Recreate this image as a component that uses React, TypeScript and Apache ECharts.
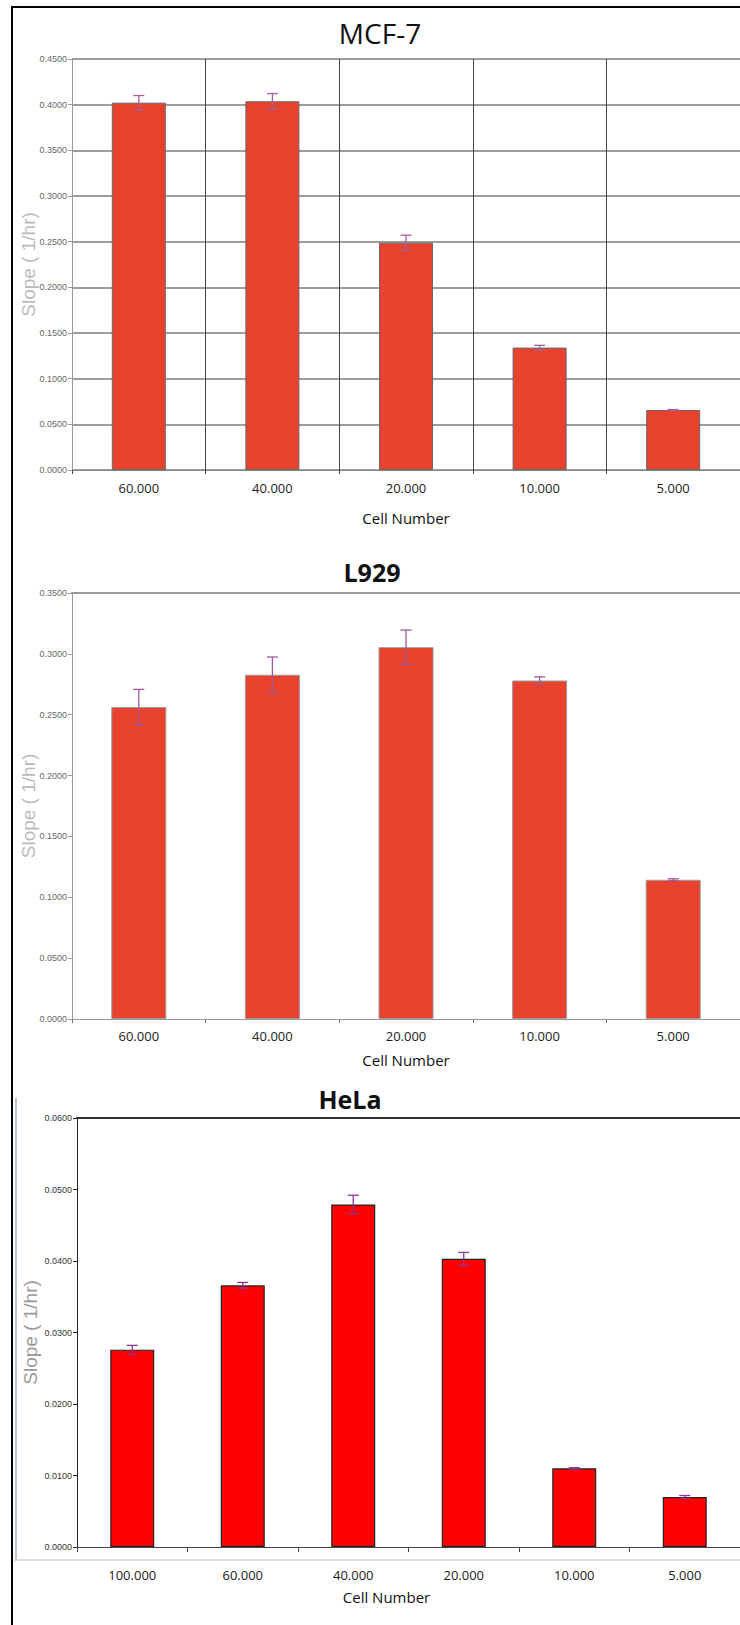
import React, { useEffect, useRef } from "react";
import * as echarts from "echarts";

// MCF-7 slopes per seeded cell number
const mcfCategories = ["60.000", "40.000", "20.000", "10.000", "5.000"];
const mcfValues = [0.4022, 0.4037, 0.2489, 0.134, 0.0657];
const mcfErrors = [0.0078, 0.0085, 0.0082, 0.0025, 0.0005];

// L929 slopes
const l929Categories = ["60.000", "40.000", "20.000", "10.000", "5.000"];
const l929Values = [0.2563, 0.2828, 0.3055, 0.2781, 0.1144];
const l929Errors = [0.0145, 0.0146, 0.0141, 0.003, 0.0008];

// HeLa slopes
const helaCategories = ["100.000", "60.000", "40.000", "20.000", "10.000", "5.000"];
const helaValues = [0.0276, 0.0366, 0.0479, 0.0403, 0.011, 0.007];
const helaErrors = [0.0006, 0.0004, 0.0013, 0.0009, 0.0001, 0.0002];

const TICK_FONT = "'Liberation Sans', Arial, sans-serif";
const LABEL_FONT = "'Open Sans', sans-serif";

function errorBars(index: number, values: number[], errors: number[], color: string) {
  return {
    type: "custom",
    xAxisIndex: index,
    yAxisIndex: index,
    z: 5,
    silent: true,
    data: values.map((v, i) => [i, v - errors[i], v + errors[i]]),
    renderItem: (_params: any, api: any) => {
      const lo = api.coord([api.value(0), api.value(1)]);
      const hi = api.coord([api.value(0), api.value(2)]);
      const half = 5.5;
      const style = { stroke: color, lineWidth: 1.3 };
      return {
        type: "group",
        children: [
          { type: "line", shape: { x1: hi[0], y1: hi[1], x2: lo[0], y2: lo[1] }, style },
          { type: "line", shape: { x1: hi[0] - half, y1: hi[1], x2: hi[0] + half, y2: hi[1] }, style },
          { type: "line", shape: { x1: lo[0] - half, y1: lo[1], x2: lo[0] + half, y2: lo[1] }, style },
        ],
      };
    },
  };
}

function valueAxis(index: number, max: number, interval: number, opts: any) {
  return {
    type: "value",
    gridIndex: index,
    min: 0,
    max,
    interval,
    axisLine: { show: true, lineStyle: { color: opts.axisColor, width: 1 } },
    axisTick: { show: true, length: 4, lineStyle: { color: opts.axisColor } },
    axisLabel: {
      formatter: (v: number) => v.toFixed(4),
      fontFamily: TICK_FONT,
      fontSize: 9,
      color: opts.labelColor,
      margin: 5,
    },
    splitLine: opts.split
      ? { show: true, lineStyle: { color: "#7d7d7d", width: 1.5 } }
      : { show: false },
    name: "Slope ( 1/hr)",
    nameLocation: "middle",
    nameGap: opts.nameGap,
    nameMoveOverlap: false,
    nameTextStyle: {
      color: opts.nameColor,
      fontSize: 19,
      fontFamily: TICK_FONT,
    },
  };
}

function categoryAxis(index: number, data: string[], opts: any) {
  return {
    type: "category",
    gridIndex: index,
    data,
    axisLine: { show: true, lineStyle: { color: opts.axisColor, width: 1.2 } },
    axisTick: { show: true, length: opts.tickLen, lineStyle: { color: opts.tickColor } },
    axisLabel: {
      fontFamily: LABEL_FONT,
      fontSize: 13,
      color: "#222",
      margin: opts.labelMargin,
    },
    splitLine: opts.split
      ? { show: true, interval: 0, lineStyle: { color: "#444", width: 1 } }
      : { show: false },
    name: "Cell Number",
    nameLocation: "middle",
    nameGap: opts.nameGap,
    nameMoveOverlap: false,
    nameTextStyle: {
      fontFamily: LABEL_FONT,
      fontSize: 15,
      color: "#111",
      padding: opts.namePadding || 0,
    },
  };
}

function topFrame(index: number, data: string[], color: string, width: number) {
  return {
    type: "category",
    gridIndex: index,
    position: "top",
    data,
    axisLine: { show: true, lineStyle: { color, width } },
    axisTick: { show: false },
    axisLabel: { show: false },
    splitLine: { show: false },
  };
}

export default function App() {
  const ref = useRef<HTMLDivElement>(null);

  useEffect(() => {
    if (!ref.current) return;
    const chart = echarts.init(ref.current, null, { renderer: "svg" });

    chart.setOption({
      animation: false,
      backgroundColor: "#fff",
      title: [
        {
          text: "MCF-7",
          left: 380,
          top: 33,
          padding: 0,
          textAlign: "center",
          textVerticalAlign: "middle",
          textStyle: { fontFamily: LABEL_FONT, fontSize: 28, fontWeight: "normal", color: "#111" },
        },
        {
          text: "L929",
          left: 372,
          top: 572,
          padding: 0,
          textAlign: "center",
          textVerticalAlign: "middle",
          textStyle: { fontFamily: LABEL_FONT, fontSize: 25, fontWeight: "bold", color: "#111" },
        },
        {
          text: "HeLa",
          left: 350,
          top: 1099,
          padding: 0,
          textAlign: "center",
          textVerticalAlign: "middle",
          textStyle: { fontFamily: LABEL_FONT, fontSize: 25, fontWeight: "bold", color: "#111" },
        },
      ],
      grid: [
        { left: 72, top: 59, width: 670, height: 411 },
        { left: 72, top: 593, width: 670, height: 426 },
        { left: 77, top: 1118, width: 663, height: 429 },
      ],
      xAxis: [
        categoryAxis(0, mcfCategories, {
          axisColor: "#888",
          tickColor: "#444",
          tickLen: 4,
          labelMargin: 11,
          split: true,
          nameGap: 40,
        }),
        categoryAxis(1, l929Categories, {
          axisColor: "#999",
          tickColor: "#777",
          tickLen: 4,
          labelMargin: 10,
          split: false,
          nameGap: 33,
        }),
        categoryAxis(2, helaCategories, {
          axisColor: "#444",
          tickColor: "#444",
          tickLen: 5,
          labelMargin: 21,
          split: false,
          nameGap: 42,
          namePadding: [0, 44, 0, 0],
        }),
        topFrame(1, l929Categories, "#999", 2),
        topFrame(2, helaCategories, "#333", 2),
      ],
      yAxis: [
        valueAxis(0, 0.45, 0.05, {
          axisColor: "#999",
          labelColor: "#666",
          split: true,
          nameColor: "#bbb",
          nameGap: 34,
        }),
        valueAxis(1, 0.35, 0.05, {
          axisColor: "#999",
          labelColor: "#666",
          split: false,
          nameColor: "#bbb",
          nameGap: 34,
        }),
        valueAxis(2, 0.06, 0.01, {
          axisColor: "#222",
          labelColor: "#333",
          split: false,
          nameColor: "#999",
          nameGap: 37,
        }),
      ],
      series: [
        {
          type: "bar",
          xAxisIndex: 0,
          yAxisIndex: 0,
          data: mcfValues,
          barWidth: 54,
          itemStyle: { color: "#E8412C", borderColor: "#666", borderWidth: 1 },
        },
        errorBars(0, mcfValues, mcfErrors, "#A3619F"),
        {
          type: "bar",
          xAxisIndex: 1,
          yAxisIndex: 1,
          data: l929Values,
          barWidth: 55,
          itemStyle: { color: "#E8412C", borderColor: "#9a9a9a", borderWidth: 1 },
        },
        errorBars(1, l929Values, l929Errors, "#9E5A9A"),
        {
          type: "bar",
          xAxisIndex: 2,
          yAxisIndex: 2,
          data: helaValues,
          barWidth: 44,
          itemStyle: { color: "#FF0000", borderColor: "#222", borderWidth: 1.2 },
        },
        errorBars(2, helaValues, helaErrors, "#8E3590"),
      ],
      graphic: [
        {
          type: "rect",
          shape: { x: 12, y: 7, width: 760, height: 1640 },
          style: { fill: "none", stroke: "#000", lineWidth: 2 },
          silent: true,
        },
        {
          type: "line",
          shape: { x1: 16, y1: 1098, x2: 16, y2: 1560 },
          style: { stroke: "#b9c8d8", lineWidth: 2 },
          silent: true,
        },
        {
          type: "line",
          shape: { x1: 14, y1: 1560, x2: 740, y2: 1560 },
          style: { stroke: "#cfcfcf", lineWidth: 1.5 },
          silent: true,
        },
      ],
    });

    return () => chart.dispose();
  }, []);

  return (
    <div
      ref={ref}
      style={{ position: "absolute", left: 0, top: 0, width: 740, height: 1625 }}
    />
  );
}
